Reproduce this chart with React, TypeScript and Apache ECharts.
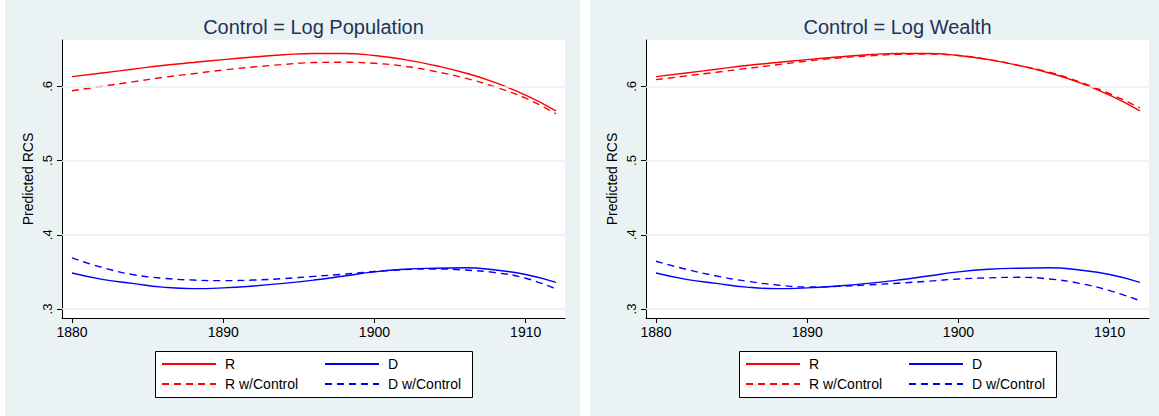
import React, { useEffect, useRef } from "react";
import * as echarts from "echarts";

const years = [1880, 1882, 1884, 1886, 1888, 1890, 1892, 1894, 1896, 1898, 1900, 1902, 1904, 1906, 1908, 1910, 1912];

// Left panel: Control = Log Population
const popR = [0.613, 0.618, 0.623, 0.628, 0.632, 0.636, 0.6395, 0.6425, 0.6443, 0.6443, 0.6415, 0.636, 0.628, 0.618, 0.605, 0.588, 0.567];
const popRCtrl = [0.594, 0.600, 0.606, 0.612, 0.617, 0.622, 0.626, 0.6295, 0.632, 0.6325, 0.631, 0.627, 0.620, 0.611, 0.599, 0.584, 0.563];
const popD = [0.3485, 0.340, 0.3345, 0.3295, 0.3275, 0.3285, 0.331, 0.3345, 0.339, 0.3445, 0.350, 0.3535, 0.355, 0.3555, 0.3525, 0.3465, 0.336];
const popDCtrl = [0.3688, 0.356, 0.3465, 0.3415, 0.339, 0.3382, 0.339, 0.341, 0.344, 0.347, 0.3505, 0.353, 0.354, 0.3525, 0.349, 0.3415, 0.327];

// Right panel: Control = Log Wealth
const wealthR = [0.613, 0.618, 0.623, 0.628, 0.632, 0.636, 0.6395, 0.6425, 0.6443, 0.6443, 0.6415, 0.636, 0.628, 0.618, 0.605, 0.588, 0.567];
const wealthRCtrl = [0.609, 0.614, 0.619, 0.624, 0.629, 0.634, 0.638, 0.641, 0.643, 0.6435, 0.6415, 0.636, 0.628, 0.619, 0.606, 0.590, 0.571];
const wealthD = [0.3485, 0.340, 0.3345, 0.3295, 0.3275, 0.3285, 0.331, 0.3345, 0.339, 0.3445, 0.350, 0.3535, 0.355, 0.3555, 0.3525, 0.3465, 0.336];
const wealthDCtrl = [0.3643, 0.3535, 0.3445, 0.3375, 0.3324, 0.3297, 0.3305, 0.3325, 0.3348, 0.3375, 0.3404, 0.342, 0.3427, 0.3405, 0.3346, 0.3247, 0.3112];

const panelTitles = ["Control = Log Population", "Control = Log Wealth"];
const xTicks = [1880, 1890, 1900, 1910];
const yTicks = [0.3, 0.4, 0.5, 0.6];
const seriesNames = ["R", "D", "R w/Control", "D w/Control"];

const FONT = "'Liberation Sans', Arial, Helvetica, sans-serif";
const BG = "#eaf2f3";
const RED = "#ff0000";
const BLUE = "#0000ff";

function pairs(vals: number[]) {
  return years.map((y, i) => [y, vals[i]]);
}

export default function App() {
  const ref = useRef<HTMLDivElement>(null);
  useEffect(() => {
    if (!ref.current) return;
    const chart = echarts.init(ref.current, null, { renderer: "svg" });
    const panels = [
      { r: popR, rc: popRCtrl, d: popD, dc: popDCtrl },
      { r: wealthR, rc: wealthRCtrl, d: wealthD, dc: wealthDCtrl },
    ];
    const offsets = [0, 584];
    const grids = offsets.map((o) => ({
      left: 62 + o,
      top: 40,
      width: 503,
      height: 278,
      show: true,
      backgroundColor: "#ffffff",
      borderWidth: 0,
    }));
    const xAxes = offsets.map((_, i) => ({
      type: "value",
      gridIndex: i,
      min: 1879.34,
      max: 1912.6,
      axisLine: { show: true, onZero: false, lineStyle: { color: "#000", width: 1 } },
      axisTick: { show: true, customValues: xTicks, length: 5, lineStyle: { color: "#000" } },
      axisLabel: { customValues: xTicks, fontSize: 14, color: "#000", margin: 7, fontFamily: FONT, formatter: (v: number) => String(v) },
      splitLine: { show: false },
    }));
    const yAxes = offsets.map((_, i) => ({
      type: "value",
      gridIndex: i,
      min: 0.2879,
      max: 0.6624,
      name: "Predicted RCS",
      nameLocation: "middle",
      nameGap: 27,
      nameTextStyle: { fontSize: 14, color: "#000", fontFamily: FONT },
      axisLine: { show: true, onZero: false, lineStyle: { color: "#000", width: 1 } },
      axisTick: { show: true, customValues: yTicks, length: 5, lineStyle: { color: "#000" } },
      axisLabel: {
        customValues: yTicks,
        rotate: 90,
        fontSize: 13,
        color: "#000",
        margin: 8,
        fontFamily: FONT,
        formatter: (v: number) => "." + Math.round(v * 10),
      },
      splitLine: { show: false },
    }));
    const series: any[] = [];
    panels.forEach((p, i) => {
      series.push({
        type: "line",
        xAxisIndex: i,
        yAxisIndex: i,
        data: [],
        silent: true,
        z: 1,
        markLine: {
          silent: true,
          symbol: "none",
          label: { show: false },
          lineStyle: { color: BG, width: 1.5, type: "solid" },
          data: yTicks.map((v) => ({ yAxis: v })),
        },
      });
      const defs = [
        { name: seriesNames[0], vals: p.r, color: RED, type: "solid" },
        { name: seriesNames[1], vals: p.d, color: BLUE, type: "solid" },
        { name: seriesNames[2], vals: p.rc, color: RED, type: [7, 5] },
        { name: seriesNames[3], vals: p.dc, color: BLUE, type: [7, 5] },
      ];
      defs.forEach((d) => {
        series.push({
          type: "line",
          name: d.name,
          xAxisIndex: i,
          yAxisIndex: i,
          data: pairs(d.vals),
          smooth: true,
          symbol: "none",
          showSymbol: false,
          color: d.color,
          z: 3,
          lineStyle: { color: d.color, width: 1.4, type: d.type },
        });
      });
    });
    const legends: any[] = [];
    offsets.forEach((o) => {
      [
        { left: 161 + o, data: [seriesNames[0], seriesNames[2]] },
        { left: 324 + o, data: [seriesNames[1], seriesNames[3]] },
      ].forEach((l) => {
        legends.push({
          left: l.left,
          top: 357,
          orient: "vertical",
          data: l.data,
          itemWidth: 54,
          itemHeight: 14,
          itemGap: 6,
          padding: 0,
          selectedMode: false,
          itemStyle: { opacity: 0 },
          textStyle: { fontSize: 14, color: "#000", fontFamily: FONT, padding: [0, 0, 0, 4] },
        });
      });
    });
    const graphics: any[] = [
      { type: "rect", z: -10, shape: { x: 5, y: 0, width: 575, height: 416 }, style: { fill: BG } },
      { type: "rect", z: -10, shape: { x: 590, y: 0, width: 569, height: 416 }, style: { fill: BG } },
    ];
    offsets.forEach((o) => {
      graphics.push({
        type: "rect",
        z: 1,
        shape: { x: 155.5 + o, y: 351.5, width: 317, height: 46 },
        style: { fill: "#ffffff", stroke: "#000", lineWidth: 1 },
      });
    });
    chart.setOption({
      animation: false,
      backgroundColor: "#ffffff",
      textStyle: { fontFamily: FONT },
      title: offsets.map((o, i) => ({
        text: panelTitles[i],
        left: 313.5 + o,
        top: 17,
        textAlign: "center",
        padding: 0,
        textStyle: { fontSize: 20, fontWeight: "normal", color: "#22335a", fontFamily: FONT },
      })),
      grid: grids,
      xAxis: xAxes,
      yAxis: yAxes,
      legend: legends,
      graphic: graphics,
      series,
    });
    return () => chart.dispose();
  }, []);
  return <div ref={ref} style={{ position: "absolute", left: 0, top: 0, width: 1159, height: 416 }} />;
}
